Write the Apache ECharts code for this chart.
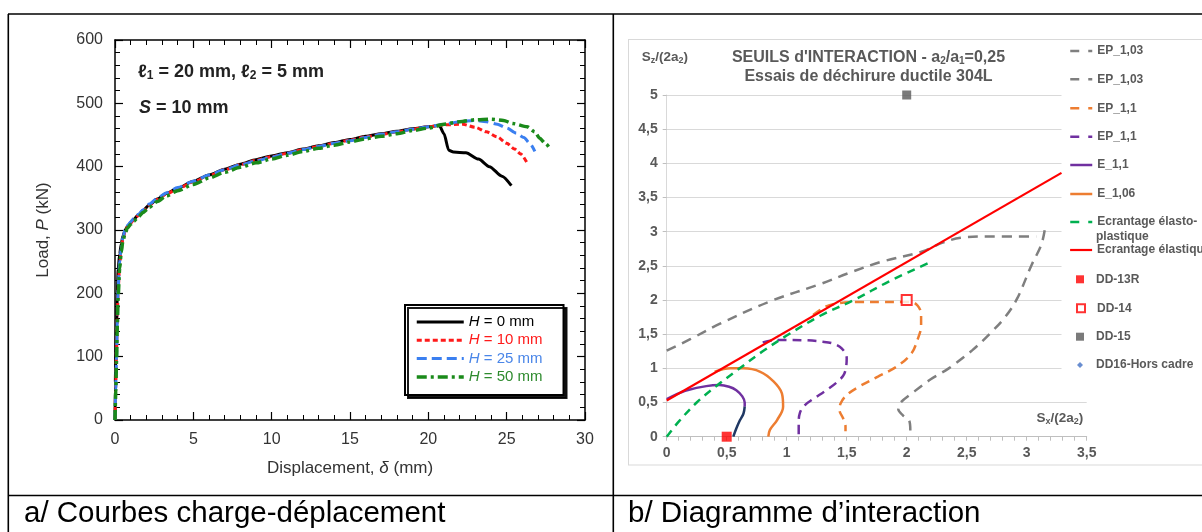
<!DOCTYPE html>
<html lang="fr">
<head>
<meta charset="utf-8">
<title>Courbes charge-déplacement et diagramme d'interaction</title>
<script src="https://cdn.jsdelivr.net/npm/echarts@6.0.0/dist/echarts.min.js"></script>
<style>
html,body{margin:0;padding:0;background:#ffffff;}
#chart{width:1202px;height:532px;}
</style>
</head>
<body>
<div id="chart"></div>
<script>
// ================= a/ Courbes charge-déplacement : data =================
const xTicksA = [0, 5, 10, 15, 20, 25, 30];
const yTicksA = [0, 100, 200, 300, 400, 500, 600];

const h0X = [0, 0.02, 0.05, 0.1, 0.15, 0.2, 0.3, 0.4, 0.5, 0.65, 0.8, 1.0, 1.2, 1.5, 1.8, 2.2, 2.7, 3.3, 4, 5, 6, 7, 8, 9, 10, 11, 12, 13, 14, 15, 16, 17, 18, 19, 20, 20.7, 21.0, 21.3, 21.6, 22.4, 23.2, 23.9, 24.7, 25.3];
const h0Y = [0, 60, 105, 150, 200, 238, 262, 278, 290, 300, 306, 312, 317, 324, 331, 340, 349, 358, 366, 377, 387, 396, 404, 411, 417, 422, 428, 433, 438, 443, 448, 452, 456, 460, 463, 465, 452, 426, 423, 422, 412, 400, 385, 370];

const h10X = [0, 0.05, 0.1, 0.15, 0.2, 0.3, 0.4, 0.5, 0.65, 0.8, 1.0, 1.2, 1.5, 1.8, 2.2, 2.7, 3.3, 4, 5, 6, 7, 8, 9, 10, 11, 12, 13, 14, 15, 16, 17, 18, 19, 20, 21, 22.2, 23, 23.7, 24.4, 25, 25.5, 25.9, 26.3];
const h10Y = [0, 55, 110, 165, 205, 245, 268, 285, 298, 305, 311, 316, 323, 330, 339, 348, 357, 365, 376, 386, 395, 403, 410, 416, 421, 427, 432, 437, 442, 447, 451, 455, 459, 463, 466, 467, 462, 455, 447, 437, 428, 420, 406];

const h25X = [0, 0.05, 0.1, 0.15, 0.2, 0.3, 0.4, 0.5, 0.65, 0.8, 1.0, 1.2, 1.5, 1.8, 2.2, 2.7, 3.3, 4, 5, 6, 7, 8, 9, 10, 11, 12, 13, 14, 15, 16, 17, 18, 19, 20, 21, 22, 22.9, 23.7, 24.4, 25.0, 25.6, 26.1, 26.5, 26.8];
const h25Y = [0, 50, 100, 160, 210, 250, 272, 288, 300, 307, 313, 318, 325, 332, 341, 350, 359, 367, 377, 387, 395, 403, 409, 415, 421, 427, 432, 437, 441, 446, 451, 455, 459, 463, 467, 471, 473, 471, 467, 461, 453, 446, 436, 424];

const h50X = [0, 0.05, 0.1, 0.15, 0.2, 0.3, 0.4, 0.5, 0.65, 0.8, 1.0, 1.2, 1.5, 1.8, 2.2, 2.7, 3.3, 4, 5, 6, 7, 8, 9, 10, 11, 12, 13, 14, 15, 16, 17, 18, 19, 20, 21, 22, 23, 24, 24.8, 25.4, 26.3, 26.8, 27.1, 27.5, 27.8];
const h50Y = [0, 45, 95, 150, 195, 240, 265, 282, 295, 303, 309, 314, 321, 328, 336, 345, 354, 362, 372, 382, 391, 399, 406, 412, 418, 424, 429, 434, 439, 444, 448, 452, 457, 461, 467, 471, 474, 475, 473, 468, 463, 455, 445, 436, 427];

// ================= b/ Diagramme d'interaction : data =================
const xTicksB = [0, 0.5, 1, 1.5, 2, 2.5, 3, 3.5];
const yTicksB = [0, 0.5, 1, 1.5, 2, 2.5, 3, 3.5, 4, 4.5, 5];

const ep103Upper = [[0, 1.26], [0.2, 1.43], [0.44, 1.65], [0.86, 1.98], [1.29, 2.24], [1.54, 2.41], [1.79, 2.56], [2.13, 2.71], [2.3, 2.84], [2.45, 2.91], [2.7, 2.93], [3.08, 2.93]];
const ep103Lower = [[3.15, 3.02], [3.12, 2.8], [3.04, 2.51], [2.92, 2.02], [2.82, 1.75], [2.7, 1.52], [2.55, 1.27], [2.35, 1.0], [2.2, 0.84], [2.04, 0.63], [1.95, 0.5], [1.93, 0.4], [1.97, 0.31], [2.02, 0.24], [2.03, 0.1], [2.03, 0.0]];
const ep11Orange = [[1.22, 1.78], [1.32, 1.9], [1.42, 1.95], [1.6, 1.97], [1.8, 1.97], [1.95, 1.97], [2.04, 1.97], [2.09, 1.92], [2.12, 1.8], [2.12, 1.62], [2.09, 1.42], [2.04, 1.22], [1.92, 1.03], [1.76, 0.88], [1.6, 0.73], [1.5, 0.61], [1.45, 0.49], [1.44, 0.39], [1.47, 0.27], [1.49, 0.15], [1.49, 0.08]];
const ep11Purple = [[0.8, 1.38], [0.89, 1.41], [1.0, 1.415], [1.17, 1.41], [1.3, 1.39], [1.39, 1.36], [1.46, 1.29], [1.5, 1.15], [1.48, 0.92], [1.42, 0.8], [1.33, 0.68], [1.22, 0.55], [1.15, 0.46], [1.11, 0.35], [1.1, 0.2], [1.1, 0.0]];
const e11 = [[0, 0.55], [0.08, 0.62], [0.17, 0.68], [0.33, 0.74], [0.44, 0.755], [0.52, 0.73], [0.58, 0.68], [0.63, 0.59], [0.65, 0.5], [0.65, 0.44]];
const e11Low = [[0.65, 0.44], [0.64, 0.34], [0.61, 0.24], [0.58, 0.12], [0.555, 0.0]];
const e106 = [[0.4, 0.95], [0.53, 1.0], [0.64, 1.0], [0.78, 0.95], [0.89, 0.81], [0.96, 0.635], [0.97, 0.44], [0.92, 0.244], [0.86, 0.1], [0.847, 0.0]];
const ecrElastoPlast = [[0, 0], [0.1, 0.22], [0.25, 0.5], [0.42, 0.75], [0.6, 0.99], [0.8, 1.25], [1.0, 1.48], [1.28, 1.77], [1.56, 2.0], [1.85, 2.27], [2.18, 2.54]];
const ecrElastique = [[0, 0.53], [3.29, 3.86]];
const dd13R = [[0.5, 0]];
const dd14 = [[2, 2]];
const dd15 = [[2, 5]];
const dd16 = [];

const legendNamesA = ['H = 0 mm', 'H = 10 mm', 'H = 25 mm', 'H = 50 mm'];
const legendNamesB = ['EP_1,03', 'EP_1,03\u200b', 'EP_1,1', 'EP_1,1\u200b', 'E_1,1', 'E_1,06', 'Ecrantage élasto-plastique', 'Ecrantage élastique', 'DD-13R', 'DD-14', 'DD-15', 'DD16-Hors cadre'];

// ================= chart =================
const FONT = '"Liberation Sans", Arial, Helvetica, sans-serif';
const zip = (xs, ys) => xs.map((x, i) => [x, ys[i]]);
const comma = v => String(v).replace('.', ',');
const last = a => a[a.length - 1];

const chart = echarts.init(document.getElementById('chart'), null, { renderer: 'canvas', width: 1202, height: 532 });

// left chart axes
const axA = (pos, showLabel) => ({
  gridIndex: 0, type: 'value', position: pos,
  axisLine: { onZero: false, lineStyle: { color: '#000', width: 1.5 } },
  axisTick: { show: true, inside: true, length: 8, lineStyle: { color: '#000', width: 1.2 } },
  minorTick: { show: true, splitNumber: 5, length: 5, lineStyle: { color: '#000', width: 1 } },
  splitLine: { show: false },
  axisLabel: { show: showLabel, color: '#333', fontSize: 16, fontFamily: FONT, margin: 12 }
});
const xA0 = Object.assign(axA('bottom', true), {
  min: xTicksA[0], max: last(xTicksA), interval: xTicksA[1] - xTicksA[0],
  name: 'Displacement, {i|δ} (mm)', nameLocation: 'middle', nameGap: 40,
  nameTextStyle: { fontSize: 17, color: '#333', fontFamily: FONT, rich: { i: { fontStyle: 'italic', fontSize: 17, color: '#333', fontFamily: FONT } } }
});
const xA1 = Object.assign(axA('top', false), { min: xTicksA[0], max: last(xTicksA), interval: xTicksA[1] - xTicksA[0] });
const yA0 = Object.assign(axA('left', true), {
  min: yTicksA[0], max: last(yTicksA), interval: yTicksA[1] - yTicksA[0],
  name: 'Load, {i|P} (kN)', nameLocation: 'middle', nameGap: 63, nameRotate: 90,
  nameTextStyle: { fontSize: 17, color: '#333', fontFamily: FONT, rich: { i: { fontStyle: 'italic', fontSize: 17, color: '#333', fontFamily: FONT } } }
});
const yA1 = Object.assign(axA('right', false), { min: yTicksA[0], max: last(yTicksA), interval: yTicksA[1] - yTicksA[0] });

const xB = {
  gridIndex: 1, type: 'value', min: xTicksB[0], max: last(xTicksB), interval: xTicksB[1] - xTicksB[0],
  axisLine: { onZero: false, lineStyle: { color: '#bfbfbf', width: 1 } },
  axisTick: { show: true, length: 4, lineStyle: { color: '#bfbfbf' } },
  minorTick: { show: true, splitNumber: 5, length: 4, lineStyle: { color: '#bfbfbf' } },
  splitLine: { show: false },
  axisLabel: { formatter: comma, color: '#595959', fontWeight: 'bold', fontSize: 14, fontFamily: FONT, margin: 9 }
};
const yB = {
  gridIndex: 1, type: 'value', min: yTicksB[0], max: last(yTicksB), interval: yTicksB[1] - yTicksB[0],
  axisLine: { show: true, onZero: false, lineStyle: { color: '#d9d9d9', width: 1 } },
  axisTick: { show: true, length: 4, lineStyle: { color: '#bfbfbf' } },
  splitLine: { show: true, lineStyle: { color: '#d9d9d9', width: 1 } },
  axisLabel: { formatter: comma, color: '#595959', fontWeight: 'bold', fontSize: 14, fontFamily: FONT, margin: 9 }
};

const lineA = (name, data, color, width, type, z) => ({
  type: 'line', name, xAxisIndex: 0, yAxisIndex: 0, data, symbol: 'none', showSymbol: false,
  smooth: 0.25, smoothMonotone: 'x', z,
  lineStyle: { color, width, type, cap: 'butt' }, itemStyle: { color }
});
const lineB = (name, data, color, width, type, z) => ({
  type: 'line', name, xAxisIndex: 2, yAxisIndex: 2, data, symbol: 'none', showSymbol: false,
  smooth: 0.35, z,
  lineStyle: { color, width, type, cap: 'butt' }, itemStyle: { color }
});
const scatB = (name, data, symbol, size, itemStyle) => ({
  type: 'scatter', name, xAxisIndex: 2, yAxisIndex: 2, data, symbol, symbolSize: size, itemStyle, z: 5
});

const series = [
  lineA(legendNamesA[0], zip(h0X, h0Y), '#000000', 3, 'solid', 2),
  lineA(legendNamesA[1], zip(h10X, h10Y), '#ff1a1a', 3, [5, 3], 3),
  lineA(legendNamesA[2], zip(h25X, h25Y), '#3a7ff0', 3, [10, 5], 4),
  lineA(legendNamesA[3], zip(h50X, h50Y), '#1a8a1a', 3.5, [10, 4, 3, 4], 5),

  lineB(legendNamesB[0], ep103Upper, '#7f7f7f', 2.5, [10, 7], 2),
  lineB(legendNamesB[1], ep103Lower, '#7f7f7f', 2.5, [10, 7], 2),
  lineB(legendNamesB[2], ep11Orange, '#ed7d31', 2.5, [9, 6], 2),
  lineB(legendNamesB[3], ep11Purple, '#7030a0', 2.5, [9, 6], 2),
  lineB(legendNamesB[4], e11, '#7030a0', 2.5, 'solid', 3),
  lineB('E_1,1 (bas)', e11Low, '#203864', 2.5, 'solid', 3),
  lineB(legendNamesB[5], e106, '#ed7d31', 2.5, 'solid', 3),
  lineB(legendNamesB[6], ecrElastoPlast, '#00b050', 2.5, [8, 6], 3),
  lineB(legendNamesB[7], ecrElastique, '#ff0000', 2.2, 'solid', 4),
  scatB(legendNamesB[8], dd13R, 'rect', 10, { color: '#ff0000' }),
  scatB(legendNamesB[9], dd14, 'rect', 10, { color: '#ffffff', borderColor: '#ff0000', borderWidth: 2 }),
  scatB(legendNamesB[10], dd15, 'rect', 9, { color: '#595959' }),
  scatB(legendNamesB[11], dd16, 'diamond', 7, { color: '#4472c4' })
];

// legends
const legendA = {
  left: 405, top: 305, orient: 'vertical', selectedMode: false,
  data: [
    { name: legendNamesA[0], textStyle: { color: '#000000' } },
    { name: legendNamesA[1], textStyle: { color: '#ff1a1a' } },
    { name: legendNamesA[2], textStyle: { color: '#4a86e8' } },
    { name: legendNamesA[3], textStyle: { color: '#2e8b2e' } }
  ],
  itemWidth: 47, itemHeight: 14, itemGap: 0.3,
  padding: [8, 21, 9, 10],
  backgroundColor: '#ffffff', borderColor: '#000000', borderWidth: 2, borderRadius: 0,
  shadowColor: 'rgba(0,0,0,0.9)', shadowBlur: 0, shadowOffsetX: 3, shadowOffsetY: 3,
  lineStyle: { width: 'inherit' },
  itemStyle: { opacity: 0 },
  formatter: n => n.replace('H', '{i|H}'),
  textStyle: { fontSize: 15, lineHeight: 18, fontFamily: FONT, rich: { i: { fontStyle: 'italic', fontSize: 15, lineHeight: 18, fontFamily: FONT } } }
};

// legend rows of b/ (layout)
const legendRowY = [51, 79.3, 108.3, 136.7, 165, 194, 222, 250, 279.3, 308.3, 336.7, 365];
const dashedIdx = [0, 1, 2, 3, 6];
const markerSize = { 8: 8, 9: 8, 10: 8, 11: 6 };
const legendsB = legendNamesB.map((name, i) => {
  const ms = markerSize[i];
  const lg = {
    left: ms ? 1080 - ms / 2 : 1069, top: legendRowY[i] - 7, orient: 'vertical', padding: 0, selectedMode: false,
    data: [name], itemWidth: ms || 22, itemHeight: ms || 14,
    formatter: n => (n === 'Ecrantage élasto-plastique' ? 'Ecrantage élasto-' : n.replace(/\u200b/g, '')),
    textStyle: { fontSize: 12, fontWeight: 'bold', color: '#595959', lineHeight: 14, fontFamily: FONT, padding: ms ? [0, 0, 0, 1096 - (1080 - ms / 2) - ms - 5] : 0 }
  };
  if (!ms) {
    lg.lineStyle = { width: 'inherit' };
    lg.itemStyle = { opacity: 0 };
    if (dashedIdx.indexOf(i) >= 0) lg.lineStyle.type = [9, 9];
  }
  if (i === 9) lg.itemStyle = { color: '#ffffff', borderColor: '#ff0000', borderWidth: 2 };
  return lg;
});

// static texts, frames
const txt = (x, y, text, size, weight, color, align) => ({
  type: 'text', x, y, z: 10, silent: true,
  style: { text, fontSize: size, fontWeight: weight, fontFamily: FONT, fill: color, align: align || 'left', verticalAlign: 'middle' }
});
const subRich = (size, color) => ({
  sub: { fontSize: size, fontWeight: 'bold', fontFamily: FONT, fill: color, verticalAlign: 'bottom', lineHeight: size + 1 }
});
const ln = (x1, y1, x2, y2, color, w) => ({ type: 'line', z: 10, silent: true, shape: { x1, y1, x2, y2 }, style: { stroke: color, lineWidth: w } });

const graphic = [
  // table lines
  ln(8, 14, 1202, 14, '#000', 1.6),
  ln(8.3, 14, 8.3, 532, '#000', 1.6),
  ln(613.3, 14, 613.3, 532, '#000', 1.6),
  ln(8, 495.5, 1202, 495.5, '#000', 1.6),
  // chart area of b/
  ln(628, 39.5, 1202, 39.5, '#d9d9d9', 1),
  ln(628.5, 39.5, 628.5, 465, '#d9d9d9', 1),
  ln(628, 465, 1202, 465, '#d9d9d9', 1),
  // legend area of b/ (opaque)
  { type: 'rect', z: 3, silent: true, shape: { x: 1061.5, y: 41, width: 141, height: 344 }, style: { fill: '#ffffff' } },
  // captions
  txt(24, 514, 'a/ Courbes charge-déplacement', 29.5, 'normal', '#000'),
  txt(628, 514, 'b/ Diagramme d\u2019interaction', 29.5, 'normal', '#000'),
  // annotations of a/
  {
    type: 'text', x: 138, y: 71.7, z: 10, silent: true,
    style: {
      text: 'ℓ{sub|1} = 20 mm, ℓ{sub|2} = 5 mm', fontSize: 18, fontWeight: 'bold', fontFamily: FONT, fill: '#222', align: 'left', verticalAlign: 'middle', lineHeight: 20,
      rich: { sub: { fontSize: 12, fontWeight: 'bold', fontFamily: FONT, fill: '#222', verticalAlign: 'bottom', lineHeight: 13 } }
    }
  },
  {
    type: 'text', x: 139, y: 108, z: 10, silent: true,
    style: {
      text: '{it|S} = 10 mm', fontSize: 18, fontWeight: 'bold', fontFamily: FONT, fill: '#222', align: 'left', verticalAlign: 'middle',
      rich: { it: { fontSize: 18, fontWeight: 'bold', fontStyle: 'italic', fontFamily: FONT, fill: '#222' } }
    }
  },
  // titles of b/
  {
    type: 'text', x: 868.5, y: 57.3, z: 10, silent: true,
    style: { text: "SEUILS d'INTERACTION - a{sub|2}/a{sub|1}=0,25", fontSize: 16, fontWeight: 'bold', fontFamily: FONT, fill: '#595959', align: 'center', verticalAlign: 'middle', lineHeight: 18, rich: subRich(10, '#595959') }
  },
  txt(868.5, 76.7, 'Essais de déchirure ductile 304L', 16, 'bold', '#595959', 'center'),
  {
    type: 'text', x: 641.7, y: 57.3, z: 10, silent: true,
    style: { text: 'S{sub|z}/(2a{sub|2})', fontSize: 13.5, fontWeight: 'bold', fontFamily: FONT, fill: '#595959', align: 'left', verticalAlign: 'middle', lineHeight: 15, rich: subRich(9, '#595959') }
  },
  {
    type: 'text', x: 1036.4, y: 418.6, z: 10, silent: true,
    style: { text: 'S{sub|x}/(2a{sub|2})', fontSize: 13.5, fontWeight: 'bold', fontFamily: FONT, fill: '#595959', align: 'left', verticalAlign: 'middle', lineHeight: 15, rich: subRich(9, '#595959') }
  },
  txt(1096, 236.7, 'plastique', 12, 'bold', '#595959')
];

chart.setOption({
  animation: false,
  backgroundColor: '#ffffff',
  textStyle: { fontFamily: FONT },
  grid: [
    { left: 115, top: 40, width: 470, height: 380, containLabel: false, outerBoundsMode: 'none' },
    { left: 666.7, top: 95, width: 420, height: 341.7, containLabel: false, outerBoundsMode: 'none' }
  ],
  xAxis: [xA0, xA1, xB],
  yAxis: [yA0, yA1, yB],
  legend: [legendA].concat(legendsB),
  series,
  graphic
});
</script>
</body>
</html>
